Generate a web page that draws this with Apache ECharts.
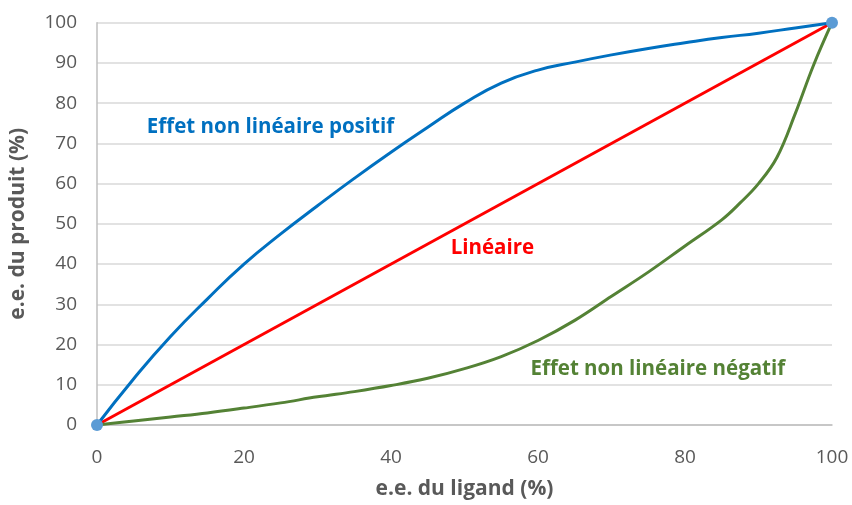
<!DOCTYPE html>
<html>
<head>
<meta charset="utf-8">
<script src="https://cdn.jsdelivr.net/npm/echarts@6/dist/echarts.min.js"></script>
<style>
  html, body { margin: 0; padding: 0; background: #fff; }
  #chart { width: 852px; height: 505px; }
</style>
</head>
<body>
<div id="chart"></div>
<script>
// e.e. du ligand (%) vs e.e. du produit (%)
const ligand   = [0, 5, 10, 15, 20, 25, 30, 35, 40, 45, 50, 55, 60, 65, 70, 75, 80, 85, 90, 95, 100];
const positif  = [0, 11.5, 22, 31.3, 40, 47.5, 54.5, 61.3, 67.8, 74, 80, 85, 88.2, 90.2, 92, 93.6, 95, 96.3, 97.4, 98.7, 100];
const lineaire = [[0, 0], [100, 100]];
const ligandNeg = [0, 5, 10, 15, 20, 25, 30, 35, 40, 45, 50, 55, 60, 65, 70, 75, 80, 85, 87.5, 90, 92.5, 95, 97.5, 100];
const negatif   = [0, 1, 2, 3, 4.2, 5.5, 7, 8.3, 9.8, 11.6, 14, 17, 21, 26, 32, 38, 44.5, 51, 55.2, 60, 66.5, 77.4, 89.5, 100];
const endpoints = [[0, 0], [100, 100]];
const xTicks = [0, 20, 40, 60, 80, 100];
const yTicks = [0, 10, 20, 30, 40, 50, 60, 70, 80, 90, 100];

// annotation text: [x, y, text, colour]
const notes = [
  [23.6, 74.1, 'Effet non linéaire positif', '#0070C0'],
  [53.8, 43.9, 'Linéaire', '#FF0000'],
  [76.3, 13.9, 'Effet non linéaire négatif', '#548235']
];

const font = '"Open Sans", "Noto Sans", sans-serif';
const textColor = '#595959';
const pairs = (xs, ys) => xs.map((x, i) => [x, ys[i]]);

const chart = echarts.init(document.getElementById('chart'), null, { renderer: 'canvas' });
chart.setOption({
  animation: false,
  grid: { left: 97, right: 20, top: 22.7, bottom: 79 },
  xAxis: {
    type: 'value', min: xTicks[0], max: xTicks[xTicks.length - 1], interval: 20,
    name: 'e.e. du ligand (%)', nameLocation: 'middle', nameGap: 54,
    nameTextStyle: { color: textColor, fontFamily: font, fontWeight: 'bold', fontSize: 21 },
    axisLine: { show: true, lineStyle: { color: '#BFBFBF', width: 1.5 } },
    axisTick: { show: false },
    splitLine: { show: false },
    axisLabel: { color: textColor, fontFamily: font, fontSize: 19, margin: 23 }
  },
  yAxis: {
    type: 'value', min: yTicks[0], max: yTicks[yTicks.length - 1], interval: 10,
    name: 'e.e. du produit (%)', nameLocation: 'middle', nameGap: 68, nameRotate: 90,
    nameTextStyle: { color: textColor, fontFamily: font, fontWeight: 'bold', fontSize: 21 },
    axisLine: { show: true, lineStyle: { color: '#BFBFBF', width: 1.5 } },
    axisTick: { show: false },
    splitLine: { show: true, lineStyle: { color: '#D9D9D9', width: 1.5 } },
    axisLabel: { color: textColor, fontFamily: font, fontSize: 19, margin: 20 }
  },
  series: [
    {
      type: 'line', data: lineaire, showSymbol: false,
      lineStyle: { color: '#FF0000', width: 3 }
    },
    {
      type: 'line', data: pairs(ligandNeg, negatif), showSymbol: false,
      smooth: 0.4,
      lineStyle: { color: '#548235', width: 3 }
    },
    {
      type: 'line', data: pairs(ligand, positif), showSymbol: false,
      smooth: 0.5,
      lineStyle: { color: '#0070C0', width: 3 }
    },
    {
      type: 'scatter', data: endpoints, symbolSize: 12,
      itemStyle: { color: '#5B9BD5', opacity: 1 }, z: 5
    },
    {
      type: 'scatter', silent: true, symbolSize: 1,
      itemStyle: { color: 'rgba(0,0,0,0)', opacity: 1 },
      data: notes.map(n => ({
        value: [n[0], n[1]],
        label: {
          show: true, position: 'inside', formatter: n[2],
          color: n[3], fontFamily: font, fontWeight: 'bold', fontSize: 20.5
        }
      }))
    }
  ]
});
</script>
</body>
</html>
